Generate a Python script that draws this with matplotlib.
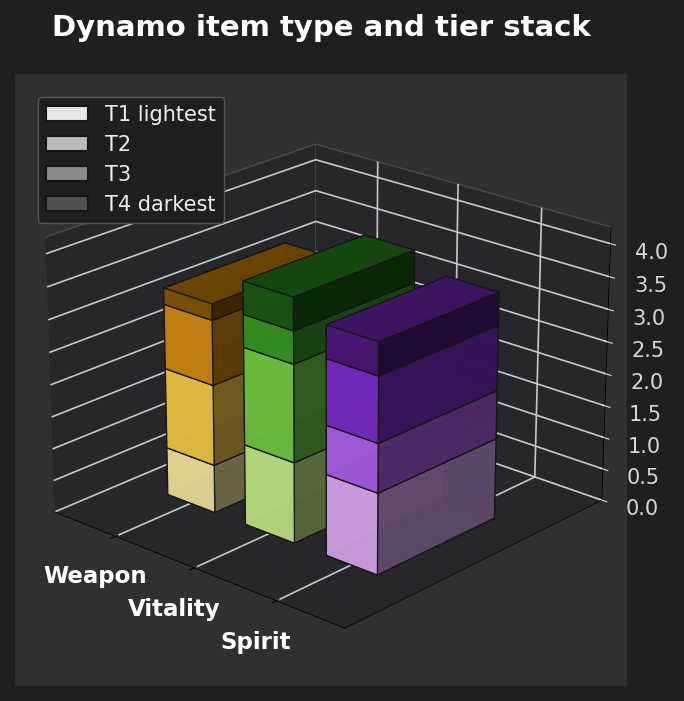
import matplotlib
matplotlib.use('Agg')
import matplotlib.pyplot as plt
from matplotlib.patches import Patch
import numpy as np

categories = ['Weapon', 'Vitality', 'Spirit']
tier_labels = ['T1 lightest', 'T2', 'T3', 'T4 darkest']
tier_greys = ['#e6e6e6', '#bababa', '#8a8a8a', '#505050']
t1 = [0.75, 1.25, 1.25]
t2 = [1.25, 1.5, 0.75]
t3 = [1.0, 0.5, 1.0]
t4 = [0.25, 0.5, 0.5]
tiers = [t1, t2, t3, t4]
colors = [
    ['#fbeba2', '#c8f08a', '#e2aef8'],
    ['#fbd04a', '#78d246', '#b462f2'],
    ['#da9014', '#3a9e28', '#8030d0'],
    ['#8a5a05', '#1c5e14', '#501a80'],
]
zticks = [0.0, 0.5, 1.0, 1.5, 2.0, 2.5, 3.0, 3.5, 4.0]

fig = plt.figure(figsize=(6.84, 7.01), dpi=100, facecolor='#1f1f23')
ax = fig.add_axes([0.022, 0.022, 0.895, 0.873], projection='3d', facecolor='#303034')
fig.text(0.47, 0.96, 'Dynamo item type and tier stack', color='white', fontsize=21,
         fontweight='bold', ha='center', va='center')

xpos = np.arange(3)
for i in range(3):
    bottom = 0
    for j in range(4):
        ax.bar3d(xpos[i] - 0.3, 0, bottom, 0.61, 1.0, tiers[j][i], color=colors[j][i],
                 edgecolor='#151515', linewidth=0.9, shade=True, alpha=0.97)
        bottom += tiers[j][i]

ax.set_xlim(-0.8, 2.8)
ax.set_ylim(-0.6, 1.6)
ax.set_zlim(0, 4.25)
ax.set_xticks(xpos)
ax.set_xticklabels(categories, color='white', fontsize=16.5, fontweight='bold', ha='center')
ax.set_yticks([])
ax.set_zticks(zticks)
ax.set_zticklabels([f'{v:.1f}' for v in zticks], color='#d8d8d8', fontsize=15)
ax.tick_params(axis='z', colors='#d8d8d8', pad=9)
ax.tick_params(axis='x', pad=9)
for a in [ax.xaxis, ax.yaxis, ax.zaxis]:
    a.set_pane_color('#27272b')
    a.pane.set_edgecolor('#4a4a50')
    a._axinfo['grid']['color'] = '#c8c8c8'
    a._axinfo['grid']['linewidth'] = 1.2
ax.view_init(elev=22, azim=-48)

handles = [Patch(facecolor=c, edgecolor='#151515', linewidth=1.5, label=l)
           for c, l in zip(tier_greys, tier_labels)]
ax.legend(handles=handles, loc='upper left', bbox_to_anchor=(0.0376, 0.9624), borderaxespad=0,
          fontsize=15, labelspacing=0.48, facecolor='#1f1f23', edgecolor='#55555a',
          labelcolor='#eeeeee', framealpha=1)

fig.savefig('out.png', dpi=100, facecolor=fig.get_facecolor())
